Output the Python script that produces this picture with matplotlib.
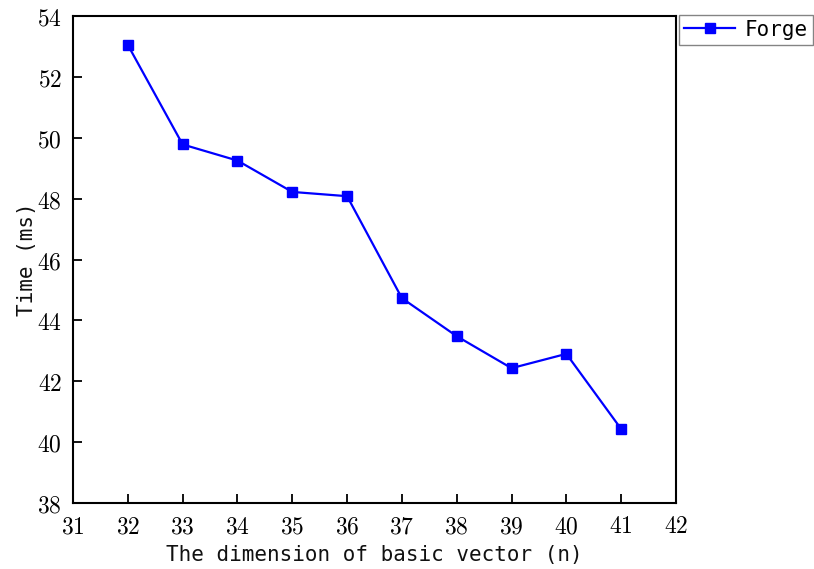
import matplotlib
matplotlib.use("Agg")
import matplotlib.pyplot as plt
from matplotlib.ticker import FuncFormatter, MultipleLocator

plt.rcParams['mathtext.fontset'] = 'cm'

dims = [32, 33, 34, 35, 36, 37, 38, 39, 40, 41]
times = [53.05, 49.78, 49.25, 48.22, 48.08, 44.73, 43.48, 42.43, 42.9, 40.43]
series_name = "Forge"
x_label = "The dimension of basic vector (n)"
y_label = "Time (ms)"

fig = plt.figure(figsize=(8.14, 5.69), dpi=100)
ax = fig.add_axes([73/814, 1-503/569, (676-73)/814, (503-16)/569])

ax.plot(dims, times, color='#0000ff', lw=1.6, marker='s', markersize=7.5,
        label=series_name)

ax.set_xlim(31, 42)
ax.set_ylim(38, 54)
ax.xaxis.set_major_locator(MultipleLocator(1))
ax.yaxis.set_major_locator(MultipleLocator(2))
fmt = FuncFormatter(lambda v, p: r'$%d$' % round(v))
ax.xaxis.set_major_formatter(fmt)
ax.yaxis.set_major_formatter(fmt)
ax.tick_params(direction='in', length=6.5, width=1.3, labelsize=17, pad=8,
               top=False, right=False)
for s in ax.spines.values():
    s.set_linewidth(1.5)

mono = ['DejaVu Sans Mono']
ax.set_xlabel(x_label, fontsize=15, family=mono, labelpad=5,
              fontweight='light', color='#111111')
ax.set_ylabel(y_label, fontsize=15, family=mono, labelpad=0,
              fontweight='light', color='#111111')

leg = ax.legend(loc='upper left', bbox_to_anchor=(1.005, 1.003), frameon=True,
                fancybox=False, borderaxespad=0, handlelength=2.45,
                prop={'family': mono, 'size': 15}, borderpad=0.25,
                handletextpad=0.45)
leg.get_frame().set_edgecolor('#666666')
leg.get_frame().set_linewidth(1.0)

fig.savefig('out.png', dpi=100)
